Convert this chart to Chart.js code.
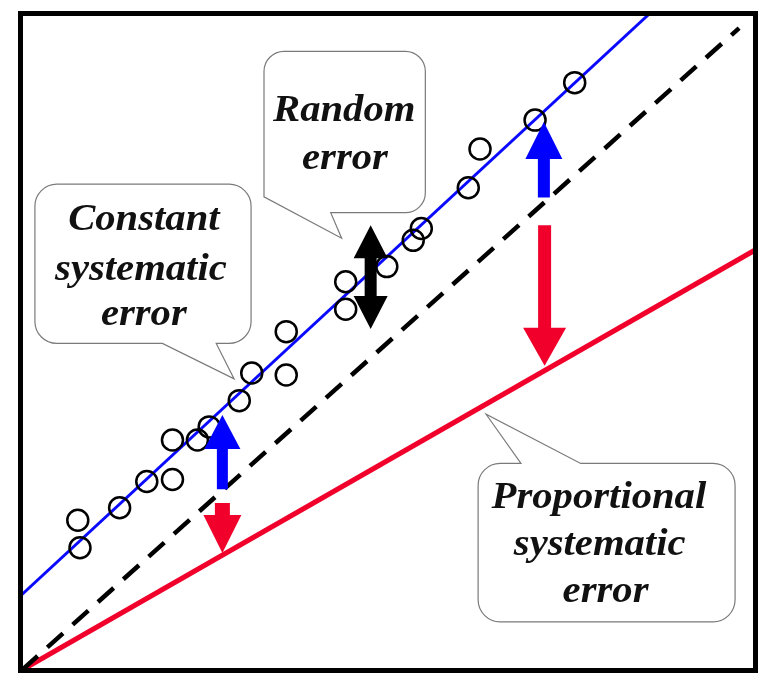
<!DOCTYPE html>
<html>
<head>
<meta charset="utf-8">
<script src="https://cdn.jsdelivr.net/npm/chart.js@4.4.1/dist/chart.umd.min.js"></script>
<style>
  body { margin: 0; background: #fff; }
  canvas { display: block; }
  .fontwarm { position: absolute; left: -999px; top: 0; font: bold italic 38px "Liberation Serif"; }
</style>
</head>
<body>
<span class="fontwarm">Random error</span>
<canvas id="errChart" width="769" height="683"></canvas>
<script>
// measured points (test method vs. reference method, arbitrary units 0-100)
const pointX = [7.6, 7.9, 13.3, 17.0, 20.5, 20.5, 23.9, 25.5, 29.6, 31.3, 36.0, 36.0, 44.1, 44.1, 49.7, 53.3, 54.4, 60.8, 62.4, 69.9, 75.3];
const pointY = [22.8, 18.6, 24.7, 28.7, 29.0, 35.0, 35.0, 37.0, 41.0, 45.2, 44.9, 51.5, 59.1, 54.9, 61.4, 65.4, 67.2, 73.4, 79.3, 83.7, 89.4];

// regression line (blue), line of identity (dashed), proportional error line (red)
const fitX = [0, 85.6];
const fitY = [11.5, 100];
const identX = [0, 97.7];
const identY = [0, 97.7];
const propX = [0, 100];
const propY = [0, 64];

// error arrows: x position, from -> to (data units)
const arrowX = [27.3, 27.3, 71.1, 71.2, 47.5];
const arrowFrom = [27.5, 25.4, 71.9, 67.7, 67.7];
const arrowTo = [38.8, 17.8, 83.4, 46.3, 51.9];

const toXY = (xs, ys) => xs.map((x, i) => ({ x: x, y: ys[i] }));

// arrows + callouts + frame
const arrowStyle = [
  { color: '#0000ff', shaft: 11, headW: 36, headL: 34 },
  { color: '#f0002a', shaft: 15, headW: 38, headL: 38 },
  { color: '#0000ff', shaft: 12, headW: 37, headL: 37 },
  { color: '#f0002a', shaft: 13, headW: 43, headL: 38 },
  { color: '#000000', shaft: 12, headW: 34, headL: 33, both: true }
];

const LABEL_FONT = 'bold italic 38px "Liberation Serif"';

// callout outlines in data units, [x, y, cornerRadius]
const callouts = [
  {
    pts: [[32.97, 94.16, 20], [54.95, 94.16, 20], [54.95, 69.61, 20], [42.06, 69.61, 0], [43.55, 65.72, 0], [32.97, 72.01, 0]],
    lines: [['Random', 43.9, 83.5], ['error', 44.0, 76.2]]
  },
  {
    pts: [[1.76, 73.95, 22], [31.21, 73.95, 22], [31.21, 49.70, 22], [26.46, 49.70, 0], [28.90, 44.31, 0], [19.13, 49.70, 0], [1.76, 49.70, 22]],
    lines: [['Constant', 16.6, 66.9], ['systematic', 16.2, 59.4], ['error', 16.6, 52.5]]
  },
  {
    pts: [[62.14, 31.44, 22], [67.98, 31.44, 0], [63.23, 38.92, 0], [76.12, 31.44, 0], [97.15, 31.44, 22], [97.15, 7.34, 22], [62.14, 7.34, 22]],
    lines: [['Proportional', 78.6, 24.6], ['systematic', 78.7, 17.5], ['error', 79.5, 10.3]]
  }
];

function roundedPoly(ctx, pts) {
  const n = pts.length;
  const a = pts[n - 1], b = pts[0];
  ctx.beginPath();
  ctx.moveTo((a[0] + b[0]) / 2, (a[1] + b[1]) / 2);
  for (let i = 0; i < n; i++) {
    const p = pts[i], q = pts[(i + 1) % n];
    ctx.arcTo(p[0], p[1], q[0], q[1], p[2]);
  }
  ctx.closePath();
}

function vArrow(ctx, x, yTail, yTip, s) {
  const dir = yTip > yTail ? 1 : -1;
  const hb = yTip - dir * s.headL;
  ctx.beginPath();
  if (s.both) {
    const hb2 = yTail + dir * s.headL;
    ctx.moveTo(x, yTail);
    ctx.lineTo(x + s.headW / 2, hb2);
    ctx.lineTo(x + s.shaft / 2, hb2);
    ctx.lineTo(x + s.shaft / 2, hb);
    ctx.lineTo(x + s.headW / 2, hb);
    ctx.lineTo(x, yTip);
    ctx.lineTo(x - s.headW / 2, hb);
    ctx.lineTo(x - s.shaft / 2, hb);
    ctx.lineTo(x - s.shaft / 2, hb2);
    ctx.lineTo(x - s.headW / 2, hb2);
  } else {
    ctx.moveTo(x - s.shaft / 2, yTail);
    ctx.lineTo(x - s.shaft / 2, hb);
    ctx.lineTo(x - s.headW / 2, hb);
    ctx.lineTo(x, yTip);
    ctx.lineTo(x + s.headW / 2, hb);
    ctx.lineTo(x + s.shaft / 2, hb);
    ctx.lineTo(x + s.shaft / 2, yTail);
  }
  ctx.closePath();
  ctx.fillStyle = s.color;
  ctx.fill();
}

const annotate = {
  id: 'annotate',
  afterDatasetsDraw(chart) {
    const { ctx, chartArea: { top, bottom, left, right }, scales: { x, y } } = chart;
    ctx.save();

    // arrows
    arrowX.forEach((ax, i) => {
      vArrow(ctx, x.getPixelForValue(ax), y.getPixelForValue(arrowFrom[i]), y.getPixelForValue(arrowTo[i]), arrowStyle[i]);
    });

    // callouts
    callouts.forEach(c => {
      const px = c.pts.map(p => [x.getPixelForValue(p[0]), y.getPixelForValue(p[1]), p[2]]);
      roundedPoly(ctx, px);
      ctx.fillStyle = '#ffffff';
      ctx.fill();
      ctx.lineWidth = 1.2;
      ctx.strokeStyle = '#7a7a7a';
      ctx.stroke();
      ctx.font = LABEL_FONT;
      ctx.textAlign = 'center';
      ctx.textBaseline = 'alphabetic';
      c.lines.forEach(l => {
        // lettering in the original is a little wider than Times
        ctx.save();
        ctx.translate(x.getPixelForValue(l[1]), y.getPixelForValue(l[2]));
        ctx.scale(1.07, 1);
        ctx.fillStyle = '#111111';
        ctx.fillText(l[0], 0, 0);
        ctx.restore();
      });
    });

    // frame
    ctx.lineWidth = 5;
    ctx.strokeStyle = '#000';
    ctx.strokeRect(left - 1.5, top + 0.5, right - left + 1, bottom - top);
    ctx.restore();
  }
};

const config = {
  type: 'scatter',
  data: {
    datasets: [
      {
        label: 'points',
        data: toXY(pointX, pointY),
        pointRadius: 10.5,
        pointHoverRadius: 10.5,
        pointBorderWidth: 2.5,
        borderColor: '#000',
        backgroundColor: 'rgba(0,0,0,0)',
        showLine: false,
        order: 1
      },
      {
        label: 'fit',
        data: toXY(fitX, fitY),
        showLine: true,
        borderColor: '#0a0aff',
        borderWidth: 3,
        pointRadius: 0,
        order: 2
      },
      {
        label: 'identity',
        data: toXY(identX, identY),
        showLine: true,
        borderColor: '#000',
        borderWidth: 4.5,
        borderDash: [21, 13],
        borderCapStyle: 'butt',
        pointRadius: 0,
        order: 3
      },
      {
        label: 'proportional',
        data: toXY(propX, propY),
        showLine: true,
        borderColor: '#f0002a',
        borderWidth: 5,
        pointRadius: 0,
        order: 3
      }
    ]
  },
  options: {
    responsive: false,
    animation: false,
    layout: { padding: { left: 22, top: 9, right: 10, bottom: 6 } },
    plugins: {
      legend: { display: false },
      tooltip: { enabled: false }
    },
    scales: {
      x: { type: 'linear', min: 0, max: 100, display: false },
      y: { type: 'linear', min: 0, max: 100, display: false }
    }
  },
  plugins: [annotate]
};

const errChart = new Chart(document.getElementById('errChart'), config);
// redraw once the serif face is surely available to the canvas
if (document.fonts) {
  document.fonts.load(LABEL_FONT).then(() => errChart.draw());
}
</script>
</body>
</html>
